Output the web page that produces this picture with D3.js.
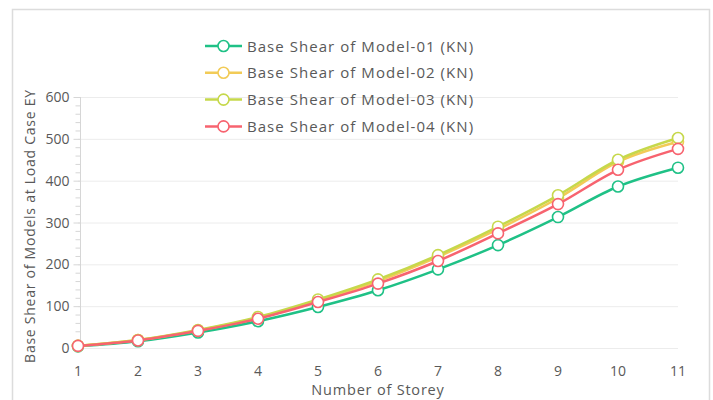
<!DOCTYPE html>
<html>
<head>
<meta charset="utf-8"/>
<title>Base Shear</title>
<script src="https://d3js.org/d3.v7.min.js"></script>
<style>
  body { margin: 0; background: #fff; }
  text { font-family: "Open Sans", "Noto Sans", sans-serif; fill: #595959; }
</style>
</head>
<body>
<div id="chart"></div>
<script>

// data
var storeys = [1, 2, 3, 4, 5, 6, 7, 8, 9, 10, 11];
var model01 = [4, 16, 37, 64, 98, 138, 188, 246, 313, 386, 431];
var model02 = [5, 19, 42, 72, 113, 160, 218, 284, 358, 445, 493];
var model03 = [5, 19, 43, 74, 116, 164, 222, 290, 365, 450, 502];
var model04 = [5, 18, 41, 70, 110, 154, 208, 274, 344, 426, 476];
var seriesNames = ["Base Shear of Model-01 (KN)", "Base Shear of Model-02 (KN)",
                   "Base Shear of Model-03 (KN)", "Base Shear of Model-04 (KN)"];
var seriesColors = ["#1fc186", "#f2cb57", "#c6d84b", "#f7636f"];
var yTicks = [0, 100, 200, 300, 400, 500, 600];

var W = 713, H = 400;
var margin = {top: 97, right: 35, bottom: 52, left: 78};

var svg = d3.select("#chart").append("svg").attr("width", W).attr("height", H);

// outer frame
svg.append("path")
  .attr("d", "M12.5,400 V9.5 H709.5 V400")
  .style("fill", "none").style("stroke", "#dcdcdc").style("stroke-width", 1.5);

var x = d3.scaleLinear().domain([1, 11]).range([margin.left, W - margin.right]);
var y = d3.scaleLinear().domain([0, 600]).range([H - margin.bottom, margin.top]);

// grid
svg.append("g").selectAll("line").data(yTicks).enter().append("line")
  .attr("x1", x(1)).attr("x2", x(11))
  .attr("y1", function(d) { return y(d) + 0.5; })
  .attr("y2", function(d) { return y(d) + 0.5; })
  .style("stroke", "#ececec").style("stroke-width", 1);

// y axis with minor ticks
var axisX = x(1) + 2.5;
var yAxis = svg.append("g");
yAxis.append("line").attr("x1", axisX).attr("x2", axisX)
  .attr("y1", y(600)).attr("y2", y(0))
  .style("stroke", "#d6d6d6");
yAxis.selectAll(".minor").data(d3.range(0, 601, 20)).enter().append("line")
  .attr("x1", function(d) { return d % 100 === 0 ? axisX - 7 : axisX - 5; })
  .attr("x2", axisX)
  .attr("y1", function(d) { return y(d) + 0.5; })
  .attr("y2", function(d) { return y(d) + 0.5; })
  .style("stroke", "#d6d6d6");
yAxis.selectAll(".lbl").data(yTicks).enter().append("text")
  .attr("x", axisX - 11).attr("y", function(d) { return y(d) + 5; })
  .attr("text-anchor", "end").style("font-size", "14px")
  .text(function(d) { return d; });

// x labels
svg.append("g").selectAll("text").data(storeys).enter().append("text")
  .attr("x", function(d) { return x(d); }).attr("y", y(0) + 28)
  .attr("text-anchor", "middle").style("font-size", "14px")
  .text(function(d) { return d; });

// axis titles
svg.append("text").attr("x", (x(1) + x(11)) / 2).attr("y", 395)
  .attr("text-anchor", "middle").style("font-size", "14.5px").style("letter-spacing", "0.8px")
  .text("Number of Storey");
svg.append("text")
  .attr("transform", "translate(35,226) rotate(-90)")
  .attr("text-anchor", "middle").style("font-size", "14px").style("letter-spacing", "0.75px")
  .text("Base Shear of Models at Load Case EY");

// lines
var allSeries = [model01, model02, model03, model04];
var line = d3.line()
  .x(function(d, i) { return x(storeys[i]); })
  .y(function(d) { return y(d); })
  .curve(d3.curveMonotoneX);

allSeries.forEach(function(vals, k) {
  var g = svg.append("g");
  g.append("path").datum(vals).attr("d", line)
    .style("fill", "none").style("stroke", seriesColors[k]).style("stroke-width", 2.5);
  g.selectAll("circle").data(vals).enter().append("circle")
    .attr("cx", function(d, i) { return x(storeys[i]); })
    .attr("cy", function(d) { return y(d); })
    .attr("r", 5.5)
    .style("fill", "#fff").style("stroke", seriesColors[k]).style("stroke-width", 1.6);
});

// legend
var legend = svg.append("g").attr("transform", "translate(205,46)");
seriesNames.forEach(function(name, k) {
  var row = legend.append("g").attr("transform", "translate(0," + k * 26.8 + ")");
  row.append("line").attr("x1", 0).attr("x2", 37).attr("y1", 0).attr("y2", 0)
    .style("stroke", seriesColors[k]).style("stroke-width", 2.5);
  row.append("circle").attr("cx", 18.5).attr("cy", 0).attr("r", 5.5)
    .style("fill", "#fff").style("stroke", seriesColors[k]).style("stroke-width", 1.6);
  row.append("text").attr("x", 42).attr("y", 5.5)
    .style("font-size", "15px").style("letter-spacing", "1.05px").text(name);
});

</script>
</body>
</html>
